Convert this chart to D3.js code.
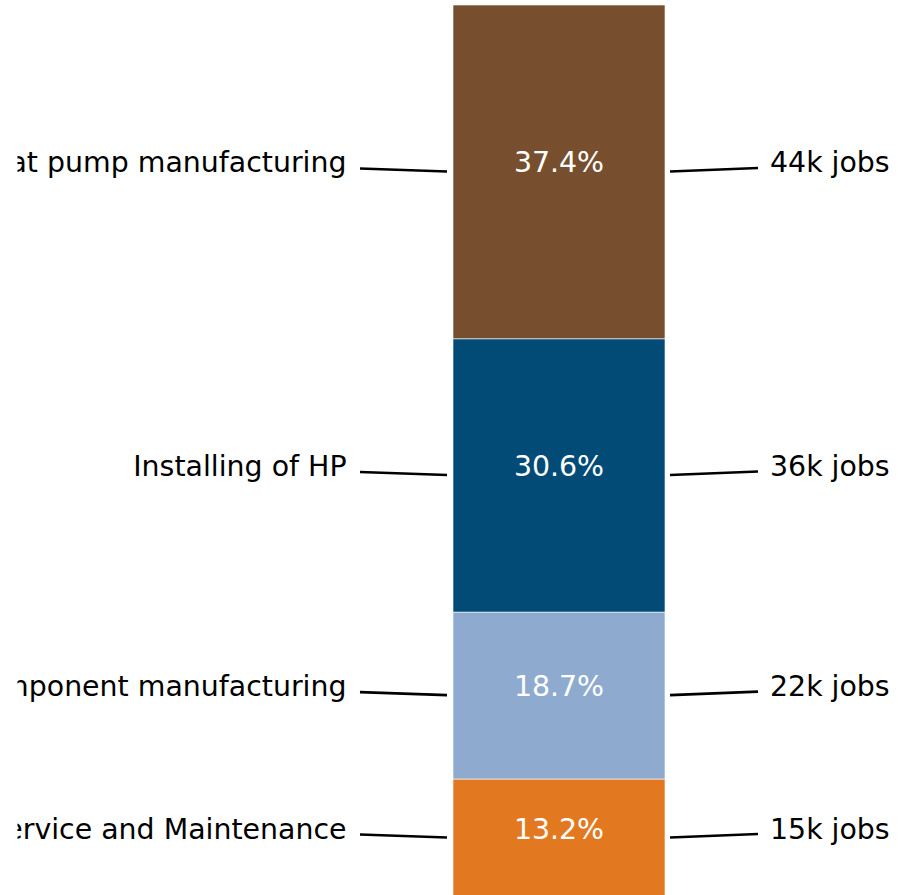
<!DOCTYPE html>
<html>
<head>
<meta charset="utf-8">
<script src="https://cdn.jsdelivr.net/npm/d3@7"></script>
<style>
  html, body { margin: 0; padding: 0; background: #fff; overflow: hidden; }
  text { font-family: "DejaVu Sans", sans-serif; }
</style>
</head>
<body>
<div id="chart"></div>
<script>
// stacked share of heat pump jobs, top to bottom
var categories = ['Heat pump manufacturing', 'Installing of HP', 'Component manufacturing', 'Service and Maintenance'];
var shares = [37.4, 30.6, 18.7, 13.2];
var jobLabels = ['44k jobs', '36k jobs', '22k jobs', '15k jobs'];
var colors = ['#784f2e', '#014b76', '#8eabcf', '#e27921'];

var width = 898, height = 895;
var fontSize = '28.4px';

var svg = d3.select('#chart')
    .append('svg')
    .attr('width', width)
    .attr('height', height);

// the original figure is cropped a little inside its left edge
svg.append('defs').append('clipPath')
    .attr('id', 'plotClip')
    .append('rect')
    .attr('x', 17.5).attr('y', 0)
    .attr('width', width - 17.5).attr('height', height);

var total = d3.sum(shares);
var y = d3.scaleLinear().domain([0, total]).range([5, 897]);
var x = d3.scaleBand().domain(['jobs']).range([453, 665]).padding(0);

var stacked = [];
var acc = 0;
shares.forEach(function(v, i) {
    stacked.push({ name: categories[i], value: v, jobs: jobLabels[i], color: colors[i], y0: acc, y1: acc + v });
    acc += v;
});

var seg = svg.append('g')
    .attr('clip-path', 'url(#plotClip)')
    .selectAll('.seg')
    .data(stacked)
    .enter().append('g')
    .attr('class', 'seg');

seg.append('rect')
    .attr('x', x('jobs'))
    .attr('width', x.bandwidth())
    .attr('y', function(d) { return y(d.y0); })
    .attr('height', function(d) { return y(d.y1) - y(d.y0); })
    .style('fill', function(d) { return d.color; })
    .style('stroke', '#fff')
    .style('stroke-width', 0.6);

var mid = function(d) { return (y(d.y0) + y(d.y1)) / 2; };

seg.append('text')
    .attr('x', x('jobs') + x.bandwidth() / 2)
    .attr('y', function(d) { return mid(d) + 0.5; })
    .attr('text-anchor', 'middle')
    .style('font-size', fontSize)
    .style('fill', '#fff')
    .text(function(d) { return d.value.toFixed(1) + '%'; });

// left labels + leader lines
seg.append('text')
    .attr('x', 346.5)
    .attr('y', function(d) { return mid(d) + 0.5; })
    .attr('text-anchor', 'end')
    .style('font-size', fontSize)
    .style('fill', '#000')
    .text(function(d) { return d.name; });

seg.append('line')
    .attr('x1', 360).attr('y1', function(d) { return mid(d) - 3.5; })
    .attr('x2', 447).attr('y2', function(d) { return mid(d) - 0.5; })
    .style('stroke', '#000')
    .style('stroke-width', 2.6);

// right labels + leader lines
seg.append('line')
    .attr('x1', 670).attr('y1', function(d) { return mid(d) - 0.5; })
    .attr('x2', 758).attr('y2', function(d) { return mid(d) - 4; })
    .style('stroke', '#000')
    .style('stroke-width', 2.6);

seg.append('text')
    .attr('x', 770)
    .attr('y', function(d) { return mid(d) + 0.5; })
    .attr('text-anchor', 'start')
    .style('font-size', fontSize)
    .style('fill', '#000')
    .text(function(d) { return d.jobs; });
</script>
</body>
</html>
